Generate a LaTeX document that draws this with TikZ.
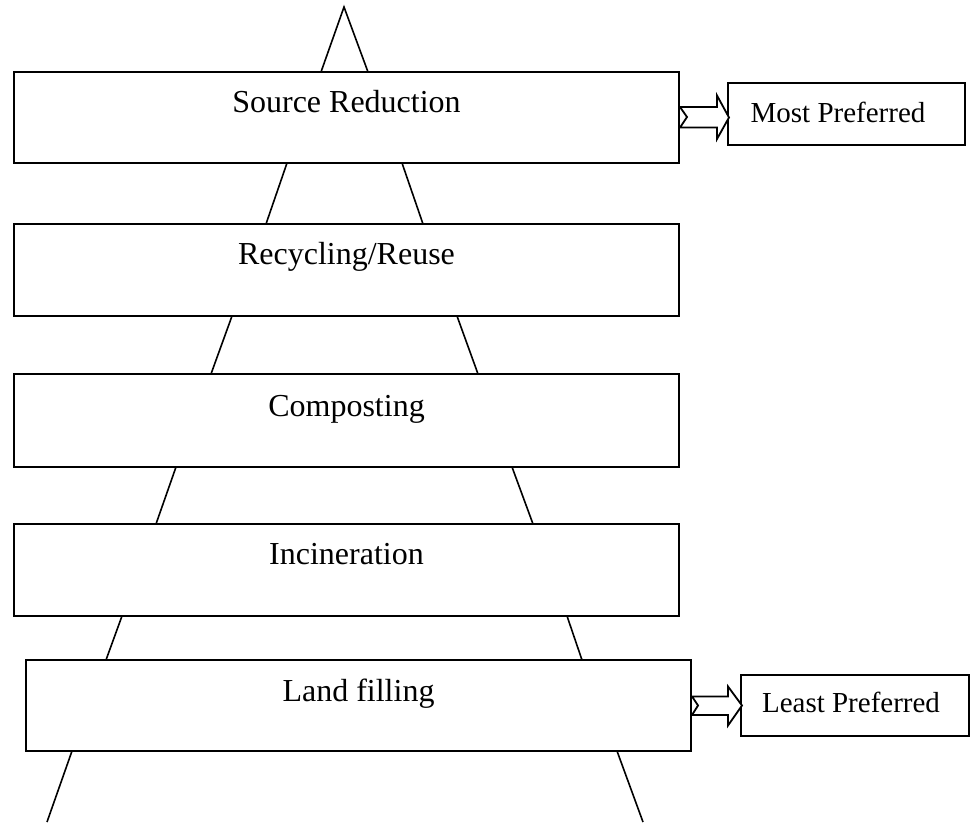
\documentclass[tikz,border=0pt]{standalone}
\usepackage{fontspec}
\setmainfont{Liberation Serif}
\begin{document}
\begin{tikzpicture}[x=1pt,y=-1pt,
  box/.style={draw,line width=2pt,inner sep=0pt,minimum width=665pt,minimum height=91pt},
  sbox/.style={draw,line width=2pt,inner sep=0pt},
  bigtxt/.style={anchor=base,inner sep=0pt,font=\fontsize{32}{38}\selectfont},
  smalltxt/.style={anchor=base,inner sep=0pt,font=\fontsize{29}{34}\selectfont},
  edge/.style={line width=1.6pt},
  blockarrow/.style={line width=1.8pt,fill=white,line join=miter}]
\useasboundingbox (0,0) rectangle (971,822);
% boxes
\node[box] (b1) at (346.5,117.5) {};
\node[box,minimum height=92pt] (b2) at (346.5,270) {};
\node[box,minimum height=93pt] (b3) at (346.5,420.5) {};
\node[box,minimum height=92pt] (b4) at (346.5,570) {};
\node[box,minimum height=91pt] (b5) at (358.5,705.5) {};
\node[sbox,minimum width=237pt,minimum height=62pt] (mp) at (846.5,114) {};
\node[sbox,minimum width=228pt,minimum height=61pt] (lp) at (855,705.5) {};
% texts
\node[bigtxt] (t1) at (346.5,112) {Source Reduction};
\node[bigtxt] (t2) at (346.5,264) {Recycling/Reuse};
\node[bigtxt] (t3) at (346.5,416) {Composting};
\node[bigtxt] (t4) at (346.5,564) {Incineration};
\node[bigtxt] (t5) at (358.5,701) {Land filling};
\node[smalltxt] (tm) at (838,122) {Most Preferred};
\node[smalltxt] (tl) at (851,712) {Least Preferred};
% pyramid edges
\coordinate (apex) at (344,7);
\draw[edge] (321,72) -- (apex) -- (368,72);
\draw[edge] (287,163) -- (266,224);
\draw[edge] (402,163) -- (423,224);
\draw[edge] (232,316) -- (211,374);
\draw[edge] (457,316) -- (478,374);
\draw[edge] (176,467) -- (156,524);
\draw[edge] (512,467) -- (533,524);
\draw[edge] (122,616) -- (106,660);
\draw[edge] (567,616) -- (582,660);
\draw[edge] (72,751) -- (47,822);
\draw[edge] (617,751) -- (643,822);
% block arrows
\draw[blockarrow] (b1.east) ++(0,-10.5) -- ++(37,0) -- ++(0,-11.5) -- ++(12,22) -- ++(-12,21.5) -- ++(0,-11.5) -- ++(-37,0) -- ++(7,-10.5) -- cycle;
\draw[blockarrow] (b5.east) ++(0,-9) -- ++(36,0) -- ++(0,-10) -- ++(14,19) -- ++(-14,20) -- ++(0,-10.5) -- ++(-36,0) -- ++(6,-9.5) -- cycle;
\end{tikzpicture}
\end{document}
